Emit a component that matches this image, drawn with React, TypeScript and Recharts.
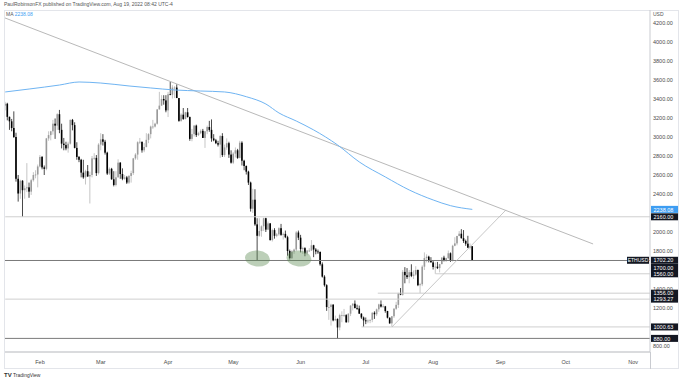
import React from 'react';
import {
  ComposedChart,
  Bar,
  Line,
  XAxis,
  YAxis,
  ReferenceLine,
  ReferenceDot,
} from 'recharts';

// day numbers count from 1 Jan 2022 (= 0); daily ETHUSD candles 16 Jan .. 19 Aug
const firstDay = 15;

const opens = [
  3330, 3350, 3212, 3165, 3095, 3000, 2560, 2405, 2540, 2440, 2460, 2470, 2425, 2545, 2600, 2605,
  2690, 2790, 2680, 2665, 2985, 3020, 3060, 3140, 3120, 3240, 3075, 2930, 2915, 2880, 2930, 3180,
  3125, 2885, 2790, 2760, 2625, 2575, 2640, 2585, 2600, 2775, 2780, 2620, 2920, 2975, 2950, 2835,
  2615, 2665, 2555, 2495, 2575, 2730, 2610, 2560, 2575, 2520, 2590, 2620, 2775, 2815, 2945, 2950,
  2860, 2895, 2970, 3030, 3110, 3110, 3140, 3290, 3330, 3400, 3385, 3280, 3450, 3445, 3520, 3520,
  3410, 3170, 3235, 3190, 3260, 3210, 2980, 3030, 3120, 3020, 3040, 3065, 2990, 3060, 3105, 3075,
  2985, 2965, 2935, 2920, 3010, 2810, 2890, 2935, 2815, 2730, 2825, 2860, 2780, 2940, 2750, 2695,
  2635, 2520, 2245, 2340, 2080, 1960, 2010, 2060, 2145, 2025, 2090, 1915, 2020, 1960, 1975, 2040,
  1970, 1980, 1945, 1800, 1725, 1795, 1815, 1995, 1940, 1820, 1830, 1775, 1805, 1805, 1860, 1815,
  1795, 1790, 1660, 1530, 1440, 1210, 1210, 1235, 1070, 1085, 995, 1125, 1125, 1125, 1050, 1140,
  1225, 1245, 1200, 1195, 1140, 1100, 1070, 1060, 1068, 1075, 1150, 1134, 1186, 1238, 1215, 1217,
  1168, 1098, 1038, 1113, 1192, 1233, 1355, 1340, 1580, 1545, 1525, 1577, 1538, 1552, 1600, 1440,
  1450, 1635, 1726, 1740, 1695, 1680, 1632, 1635, 1620, 1662, 1730, 1700, 1725, 1776, 1700, 1855,
  1880, 1958, 1982, 1935, 1905, 1877, 1835, 1850,
];
const highs = [
  3370, 3360, 3215, 3190, 3270, 3045, 2600, 2550, 2545, 2490, 2725, 2520, 2560, 2630, 2650, 2710,
  2810, 2800, 2700, 2990, 3060, 3065, 3180, 3195, 3250, 3285, 3140, 2990, 2950, 2950, 3185, 3190,
  3155, 2945, 2800, 2770, 2760, 2655, 2705, 2635, 2800, 2830, 2810, 2935, 3040, 3030, 2970, 2845,
  2680, 2675, 2640, 2640, 2765, 2735, 2670, 2600, 2590, 2600, 2645, 2780, 2830, 2955, 2990, 2950,
  2935, 3040, 3040, 3120, 3180, 3150, 3295, 3475, 3440, 3440, 3440, 3475, 3580, 3545, 3535, 3555,
  3410, 3250, 3305, 3265, 3305, 3215, 3085, 3125, 3130, 3055, 3080, 3085, 3060, 3120, 3170, 3185,
  3030, 2980, 2960, 3020, 3040, 2920, 2985, 2950, 2860, 2840, 2890, 2875, 2960, 2955, 2760, 2700,
  2645, 2530, 2455, 2450, 2145, 2145, 2070, 2150, 2150, 2110, 2095, 2035, 2040, 1990, 2050, 2085,
  1995, 2015, 1960, 1815, 1810, 1825, 2010, 2015, 1970, 1845, 1840, 1810, 1830, 1915, 1865, 1830,
  1815, 1795, 1680, 1545, 1450, 1280, 1245, 1240, 1120, 1090, 1140, 1165, 1190, 1135, 1145, 1230,
  1250, 1280, 1235, 1225, 1145, 1110, 1100, 1080, 1080, 1155, 1165, 1195, 1245, 1280, 1240, 1222,
  1170, 1100, 1115, 1200, 1265, 1360, 1410, 1600, 1630, 1620, 1600, 1660, 1595, 1640, 1605, 1465,
  1650, 1785, 1765, 1750, 1735, 1695, 1680, 1685, 1665, 1735, 1750, 1730, 1805, 1785, 1865, 1945,
  1960, 2010, 2030, 2020, 1920, 1960, 1880, 1852,
];
const lows = [
  3280, 3175, 3075, 3060, 2990, 2530, 2320, 2350, 2160, 2350, 2420, 2360, 2390, 2530, 2565, 2470,
  2680, 2660, 2600, 2650, 2960, 2965, 3025, 2980, 3075, 3040, 2880, 2860, 2860, 2835, 2920, 3070,
  2880, 2760, 2735, 2575, 2560, 2500, 2580, 2300, 2575, 2760, 2590, 2605, 2860, 2910, 2815, 2600,
  2600, 2550, 2480, 2480, 2575, 2560, 2545, 2550, 2505, 2505, 2520, 2600, 2760, 2760, 2925, 2835,
  2840, 2890, 2935, 2985, 3085, 3100, 3130, 3290, 3330, 3340, 3260, 3210, 3440, 3405, 3410, 3410,
  3160, 3160, 3180, 3185, 3205, 2960, 2955, 3005, 3000, 3010, 3030, 2990, 2885, 3030, 3055, 2950,
  2955, 2925, 2900, 2780, 2790, 2790, 2865, 2780, 2720, 2715, 2785, 2770, 2775, 2700, 2650, 2605,
  2495, 2215, 2200, 2065, 1705, 1950, 1950, 2010, 2000, 2020, 1910, 1900, 1930, 1945, 1960, 1960,
  1920, 1935, 1750, 1710, 1715, 1770, 1800, 1915, 1785, 1770, 1745, 1755, 1790, 1800, 1735, 1765,
  1770, 1645, 1520, 1425, 1170, 1075, 1015, 1060, 1065, 880, 965, 1050, 1105, 1045, 1045, 1115,
  1175, 1195, 1180, 1140, 1085, 1001, 1030, 1040, 1040, 1050, 1085, 1115, 1160, 1205, 1205, 1150,
  1090, 1035, 1005, 1095, 1180, 1200, 1335, 1330, 1460, 1505, 1460, 1525, 1505, 1540, 1430, 1356,
  1430, 1600, 1680, 1680, 1680, 1605, 1560, 1610, 1575, 1660, 1690, 1685, 1715, 1685, 1690, 1850,
  1860, 1955, 1930, 1885, 1855, 1830, 1815, 1700,
];
const closes = [
  3350, 3212, 3165, 3095, 3000, 2560, 2405, 2540, 2440, 2460, 2470, 2425, 2545, 2600, 2605, 2690,
  2790, 2680, 2665, 2985, 3020, 3060, 3140, 3120, 3240, 3075, 2930, 2915, 2880, 2930, 3180, 3125,
  2885, 2790, 2760, 2625, 2575, 2640, 2585, 2600, 2775, 2780, 2620, 2920, 2975, 2950, 2835, 2615,
  2665, 2555, 2495, 2575, 2730, 2610, 2560, 2575, 2520, 2590, 2620, 2775, 2815, 2945, 2950, 2860,
  2895, 2970, 3030, 3110, 3110, 3140, 3290, 3330, 3400, 3385, 3280, 3450, 3445, 3520, 3520, 3410,
  3170, 3235, 3190, 3260, 3210, 2980, 3030, 3120, 3020, 3040, 3065, 2990, 3060, 3105, 3075, 2985,
  2965, 2935, 2920, 3010, 2810, 2890, 2935, 2815, 2730, 2825, 2860, 2780, 2940, 2750, 2695, 2635,
  2520, 2245, 2340, 2080, 1960, 2010, 2060, 2145, 2025, 2090, 1915, 2020, 1960, 1975, 2040, 1970,
  1980, 1945, 1800, 1725, 1795, 1815, 1995, 1940, 1820, 1830, 1775, 1805, 1805, 1860, 1815, 1795,
  1790, 1660, 1530, 1440, 1210, 1210, 1235, 1070, 1085, 995, 1125, 1125, 1125, 1050, 1140, 1225,
  1245, 1200, 1195, 1140, 1100, 1070, 1060, 1068, 1075, 1150, 1134, 1186, 1238, 1215, 1217, 1168,
  1098, 1038, 1113, 1192, 1233, 1355, 1340, 1580, 1545, 1525, 1577, 1538, 1552, 1600, 1440, 1450,
  1635, 1726, 1740, 1695, 1680, 1632, 1635, 1620, 1662, 1730, 1700, 1725, 1776, 1700, 1855, 1880,
  1958, 1982, 1935, 1905, 1877, 1835, 1850, 1702,
];

// 200-day MA at a few days
const maDays = [15, 26, 40, 49, 59, 72, 82, 93, 105, 116, 126, 135, 141, 149, 157, 168, 178, 190, 201, 212, 220, 230];
const maValues = [3474, 3505, 3547, 3579, 3568, 3537, 3516, 3495, 3484, 3474, 3424, 3347, 3253, 3168, 3074, 2916, 2737, 2579, 2442, 2337, 2277, 2238.08];

const monthDays = [31, 59, 90, 120, 151, 181, 212, 243, 273, 304];
const monthLabels = ['Feb', 'Mar', 'Apr', 'May', 'Jun', 'Jul', 'Aug', 'Sep', 'Oct', 'Nov'];

const priceTicks = [800, 1200, 1400, 1800, 2000, 2400, 2600, 2800, 3000, 3200, 3400, 3600, 3800, 4000, 4200];

// horizontal levels: price and the day they are drawn from
const keyLevels = [1700, 880];
const minorLevels = [2160, 1560, 1356, 1293.27, 1000.63];
const minorFrom = [15, 213, 186.5, 15, 179];

// trendlines [day, price]
const downTrend = [[14.9, 4253], [285.6, 1874]];
const upTrend = [[193, 1000], [245.5, 2232]];

// support zones
const zoneDays = [131.1, 150.2];
const zonePrice = 1721;

const lastPrice = 1702.2;
const maLast = 2238.08;

const X_DOMAIN: [number, number] = [14.9, 311.8];
const Y_DOMAIN: [number, number] = [736.8, 4336.8];

const candles = closes.map((c, i) => ({
  day: firstDay + i,
  open: opens[i],
  high: highs[i],
  low: lows[i],
  close: c,
  range: [lows[i], highs[i]],
}));
const maData = maDays.map((d, i) => ({ day: d, ma: maValues[i] }));

const FONT = '"Liberation Sans", Arial, sans-serif';

const Candle = (props: any) => {
  const { x, y, width, height, payload } = props;
  if (!payload) return null;
  const top = Math.min(y, y + height);
  const h = Math.abs(height);
  const { open, close, high, low } = payload;
  const k = h / (high - low || 1);
  const yOf = (v: number) => top + (high - v) * k;
  const up = close >= open;
  const cx = x + width / 2;
  const b1 = yOf(Math.max(open, close));
  const b2 = yOf(Math.min(open, close));
  return (
    <g>
      <line x1={cx} x2={cx} y1={top} y2={top + h} stroke={up ? '#b8b8b8' : '#1a1a1a'} strokeWidth={0.8} />
      <rect x={cx - 0.8} y={b1} width={1.6} height={Math.max(b2 - b1, 0.8)} fill={up ? '#9a9a9a' : '#000'} />
    </g>
  );
};

const tag = (text: string, bg: string, dy = 0, symbol?: string) => (props: any) => {
  const vb = props.viewBox || {};
  const x = (vb.x || 0) + (vb.width || 0) + 1;
  const y = (vb.y || 0) + dy;
  return (
    <g>
      {symbol && (
        <g>
          <rect x={x - 24} y={y - 3.5} width={22} height={7} fill="#131722" />
          <text x={x - 13} y={y + 0.2} fill="#fff" fontSize={5} fontFamily={FONT} textAnchor="middle" dominantBaseline="central">
            {symbol}
          </text>
        </g>
      )}
      <rect x={x} y={y - 3.5} width={27} height={7} fill={bg} />
      <text x={x + 2.5} y={y + 0.2} fill="#fff" fontSize={5.5} fontFamily={FONT} dominantBaseline="central">
        {text}
      </text>
    </g>
  );
};

const Zone = (props: any) => (
  <ellipse cx={props.cx} cy={props.cy} rx={12.5} ry={8} fill="rgba(95,140,85,0.42)" transform={`rotate(6 ${props.cx} ${props.cy})`} />
);

export default function App() {
  return (
    <div style={{ position: 'fixed', left: 0, top: 0, width: 680, height: 380, background: '#fff', fontFamily: FONT }}>
      <div style={{ position: 'absolute', left: 4, top: 10, width: 675, height: 359, border: '1px solid #e3e5ea', boxSizing: 'border-box' }} />
      <div style={{ position: 'absolute', left: 650, top: 352, width: 1, height: 17, background: '#c9cbd0' }} />
      <ComposedChart
        width={680}
        height={380}
        data={candles}
        margin={{ top: 10, right: 0, bottom: 12, left: 5 }}
        style={{ position: 'absolute', left: 0, top: 0 }}
      >
        <XAxis
          dataKey="day"
          type="number"
          domain={X_DOMAIN}
          allowDataOverflow
          ticks={monthDays}
          tickFormatter={(v) => monthLabels[monthDays.indexOf(v)] || ''}
          tick={{ fontSize: 5.5, fill: '#4a4a4a', fontFamily: FONT }}
          tickLine={false}
          tickSize={0}
          tickMargin={8}
          axisLine={{ stroke: '#b5b7bc' }}
          height={16}
        />
        <YAxis
          orientation="right"
          type="number"
          domain={Y_DOMAIN}
          allowDataOverflow
          ticks={priceTicks}
          tickFormatter={(v) => v.toFixed(2)}
          tick={{ fontSize: 5.5, fill: '#4a4a4a', fontFamily: FONT, textAnchor: 'start' }}
          tickLine={false}
          tickSize={0}
          tickMargin={3}
          axisLine={{ stroke: '#c9cbd0' }}
          width={30}
        />
        {minorLevels.map((p, i) => (
          <ReferenceLine
            key={'m' + p}
            segment={[{ x: minorFrom[i], y: p }, { x: X_DOMAIN[1], y: p }]}
            stroke="#cfcfcf"
            strokeWidth={1}
            ifOverflow="visible"
            label={tag(p.toFixed(2), '#131722')}
          />
        ))}
        {keyLevels.map((p) => (
          <ReferenceLine
            key={'k' + p}
            y={p}
            stroke="#7a7a7a"
            strokeWidth={1}
            label={tag(p.toFixed(2), '#131722', p === 1700 ? 7 : 0)}
          />
        ))}
        <ReferenceLine
          segment={[{ x: downTrend[0][0], y: downTrend[0][1] }, { x: downTrend[1][0], y: downTrend[1][1] }]}
          stroke="#b9b9b9"
          strokeWidth={1}
          ifOverflow="visible"
        />
        <ReferenceLine
          segment={[{ x: upTrend[0][0], y: upTrend[0][1] }, { x: upTrend[1][0], y: upTrend[1][1] }]}
          stroke="#b9b9b9"
          strokeWidth={0.8}
          ifOverflow="visible"
        />
        {zoneDays.map((d) => (
          <ReferenceDot key={'z' + d} x={d} y={zonePrice} r={1} shape={Zone} ifOverflow="visible" />
        ))}
        <Line
          data={maData}
          dataKey="ma"
          type="monotone"
          stroke="#6fb4f2"
          strokeWidth={1}
          dot={false}
          activeDot={false}
          isAnimationActive={false}
        />
        <Bar dataKey="range" barSize={2} shape={Candle} isAnimationActive={false} />
        <ReferenceLine y={maLast} stroke="none" label={tag(maLast.toFixed(2), '#3d9df2')} />
        <ReferenceLine y={lastPrice} stroke="none" label={tag(lastPrice.toFixed(2), '#131722', 0, 'ETHUSD')} />
      </ComposedChart>
      <div style={{ position: 'absolute', left: 4, top: 1, fontSize: 5, color: '#555', whiteSpace: 'nowrap' }}>
        PaulRobinsonFX published on TradingView.com, Aug 19, 2022 08:42 UTC-4
      </div>
      <div style={{ position: 'absolute', left: 6, top: 11, fontSize: 5, color: '#555', whiteSpace: 'nowrap' }}>
        MA <span style={{ color: '#3d9df2' }}>2238.08</span>
      </div>
      <div style={{ position: 'absolute', left: 653, top: 11, fontSize: 5, color: '#555' }}>USD</div>
      <div style={{ position: 'absolute', left: 4, top: 372, fontSize: 5, color: '#333', whiteSpace: 'nowrap' }}>
        <b style={{ fontSize: 6 }}>TV</b> TradingView
      </div>
    </div>
  );
}
